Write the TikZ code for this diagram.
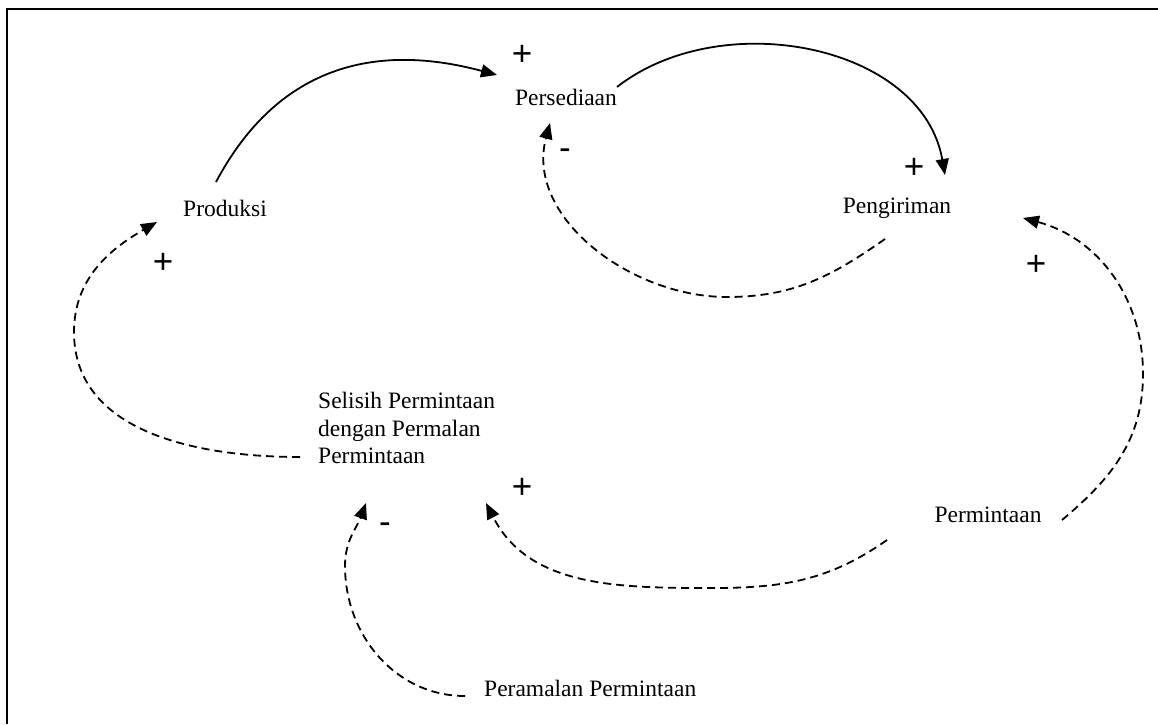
\documentclass[tikz,border=0pt]{standalone}
\usepackage{fontspec}
\setmainfont{Liberation Serif}
\newfontfamily\signfont{Liberation Sans}
\usetikzlibrary{arrows.meta}
\begin{document}
\begin{tikzpicture}[x=1pt,y=1pt,
  var/.style={inner sep=0pt, font=\fontsize{23.5}{27.5}\selectfont},
  sign/.style={inner sep=0pt, font=\signfont\fontsize{35}{36}\selectfont},
  link/.style={line width=1.8pt, -{Triangle[length=16pt,width=13pt]}},
  dlink/.style={link, dash pattern=on 8pt off 5pt}]
\useasboundingbox (0,0) rectangle (1158,724);
% frame
\draw[line width=2pt] (6.5,0) -- (6.5,715) -- (1158,715);

% variables
\node[var] (pers) at (566,627) {Persediaan};
\node[var] (peng) at (897,516) {Pengiriman};
\node[var] (prod) at (225,516) {Produksi};
\node[var, align=left, anchor=west] (sel) at (318,296) {Selisih Permintaan\\dengan Permalan\\Permintaan};
\node[var] (perm) at (988,209) {Permintaan};
\node[var, anchor=west] (peram) at (484,36) {Peramalan Permintaan};

% polarity signs
\node[sign] (s1) at (522,669) {+};
\node[sign] (s2) at (565,570) {-};
\node[sign] (s3) at (914,556) {+};
\node[sign] (s4) at (163,461) {+};
\node[sign] (s5) at (1036,459) {+};
\node[sign] (s6) at (522,236) {+};
\node[sign] (s7) at (385,196) {-};

% via points of the dashed loops
\coordinate (v1) at (727,427);
\coordinate (v2) at (74,392);
\coordinate (v3) at (1143,350);
\coordinate (v4) at (712,136);
\coordinate (v5) at (345,158);

% solid links
\draw[link] ([shift={(-9,26)}]prod.center) to[out=62,in=165,looseness=1.1] ([shift={(-69,22)}]pers.center);
\draw[link] ([shift={(51,10)}]pers.center) to[out=38,in=100] ([shift={(48,33)}]peng.center);

% dashed links
\draw[dlink] ([shift={(-12,-31)}]peng.center) to[out=215,in=0] (v1) to[out=180,in=255] ([shift={(-16,-26)}]pers.center);
\draw[dlink] ([shift={(-18,-29)}]sel.west) to[out=180,in=-90] (v2) to[out=90,in=210] ([shift={(-68,-14)}]prod.center);
\draw[dlink] ([shift={(74,-5)}]perm.center) to[out=40,in=-90] (v3) to[out=90,in=-15] ([shift={(126,-10)}]peng.center);
\draw[dlink] ([shift={(-101,-25)}]perm.center) to[out=215,in=0] (v4) to[out=180,in=-63] ([shift={(168,-75)}]sel.west);
\draw[dlink] ([shift={(-19,-8)}]peram.west) to[out=180,in=-90] (v5) to[out=90,in=250] ([shift={(48,-75)}]sel.west);
\end{tikzpicture}
\end{document}
